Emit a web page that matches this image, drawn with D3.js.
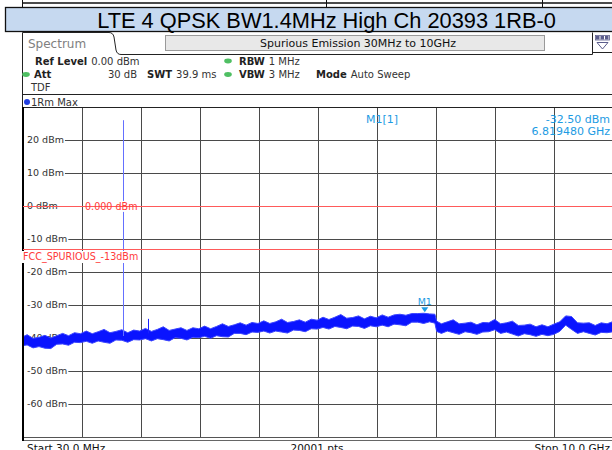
<!DOCTYPE html>
<html>
<head>
<meta charset="utf-8">
<script src="https://cdn.jsdelivr.net/npm/d3@7"></script>
<style>
  body { margin: 0; background: #fff; }
  svg { display: block; font-family: "DejaVu Sans", sans-serif; }
  .info { font-size: 10px; fill: #333; }
  .bold { font-weight: bold; fill: #222; }
  .grid { stroke: #4a4a4a; stroke-width: 1; shape-rendering: crispEdges; }
  .ylab { font-size: 9.5px; fill: #333; }
  .limit { stroke: #ff5a5a; stroke-width: 1; shape-rendering: crispEdges; }
  .limit-lab { font-size: 9.6px; fill: #ff3b3b; }
  .mk { font-size: 11px; fill: #1d9be3; }
  .foot { font-size: 10.5px; fill: #111; }
</style>
</head>
<body>
<svg width="612" height="450"></svg>
<script>
// sweep 30 MHz .. 10 GHz, trace band (upper / lower edge, dBm)
const freqs = [30, 100, 200, 300, 400, 500, 600, 700, 800, 900,
  1000, 1100, 1200, 1300, 1400, 1500, 1600, 1700, 1800, 1900,
  2000, 2100, 2200, 2300, 2400, 2500, 2600, 2700, 2800, 2900,
  3000, 3100, 3200, 3300, 3400, 3500, 3600, 3700, 3800, 3900,
  4000, 4100, 4200, 4300, 4400, 4500, 4600, 4700, 4800, 4900,
  5000, 5100, 5200, 5300, 5400, 5500, 5600, 5700, 5800, 5900,
  6000, 6100, 6200, 6300, 6400, 6500, 6600, 6700, 6800, 6900,
  6990, 7020, 7100, 7200, 7300, 7400, 7500, 7600, 7700, 7800,
  7900, 8000, 8100, 8200, 8300, 8400, 8500, 8600, 8700, 8800,
  8900, 9000, 9100, 9200, 9300, 9400, 9500, 9600, 9700, 9800,
  9900, 10000]

const traceHi = [-39.6, -39.0, -40.1, -39.8, -39.2, -40.0, -39.3, -38.6, -39.3, -38.4,
  -38.7, -37.9, -38.7, -38.1, -37.4, -38.4, -38.0, -37.5, -38.4, -37.6,
  -37.9, -37.1, -38.0, -37.4, -36.6, -37.7, -37.3, -36.9, -37.7, -36.9,
  -37.2, -36.4, -37.2, -36.5, -35.7, -36.5, -36.0, -35.4, -36.1, -35.3,
  -35.6, -34.8, -35.6, -35.1, -34.3, -35.3, -35.0, -34.5, -35.2, -34.3,
  -34.6, -33.7, -34.4, -33.7, -32.9, -34.0, -33.8, -33.3, -34.2, -33.4,
  -33.9, -33.0, -33.7, -33.0, -32.8, -33.1, -32.6, -32.6, -32.5, -32.7,
  -32.8, -34.9, -35.7, -35.1, -34.5, -35.7, -35.5, -35.2, -36.0, -35.3,
  -35.4, -34.4, -35.7, -35.4, -34.9, -36.2, -36.1, -35.8, -36.6, -36.0,
  -36.6, -35.8, -35.1, -33.3, -33.5, -35.4, -35.5, -35.4, -36.2, -35.4,
  -35.7, -35.0]

const traceLo = [-42.3, -42.1, -43.0, -42.6, -43.1, -43.2, -41.9, -41.8, -42.2, -41.3,
  -41.4, -41.0, -41.6, -40.9, -41.3, -41.6, -40.6, -40.7, -41.3, -40.5,
  -40.6, -40.2, -40.9, -40.2, -40.5, -40.9, -39.9, -40.1, -40.6, -39.8,
  -39.9, -39.5, -40.1, -39.3, -39.6, -39.7, -38.6, -38.6, -39.0, -38.2,
  -38.3, -37.9, -38.5, -37.9, -38.2, -38.5, -37.6, -37.7, -38.1, -37.2,
  -37.3, -36.8, -37.3, -36.5, -36.8, -37.2, -36.4, -36.5, -37.1, -36.3,
  -36.6, -36.1, -36.6, -35.8, -36.0, -36.3, -35.2, -35.2, -35.6, -35.1,
  -35.5, -38.0, -38.6, -37.9, -38.4, -38.9, -38.1, -38.4, -38.9, -38.2,
  -38.1, -37.5, -38.6, -38.2, -38.8, -39.4, -38.7, -39.0, -39.5, -38.9,
  -39.3, -38.9, -38.0, -36.1, -37.4, -38.6, -38.1, -38.6, -39.1, -38.3,
  -38.4, -38.1]

// narrow spurs sticking out of the band: [freq MHz, base dBm, peak dBm]
const spurs = [[1720, -39.4, 26.0], [2150, -38.6, -34.2]]

const yTicks = [20, 10, 0, -10, -20, -30, -40, -50, -60]
const limits = [{ level: 0, label: "0.000 dBm" }, { level: -13, label: "FCC_SPURIOUS_-13dBm" }]
const marker = { name: "M1", freq: 6819.48, level: -32.5, readLevel: "-32.50 dBm", readFreq: "6.819480 GHz" }

const svg = d3.select("svg")

const x = d3.scaleLinear().domain([30, 10000]).range([23, 613])
const y = d3.scaleLinear().domain([-70, 30]).range([437, 107])

// ---- header ----
svg.append("line").attr("x1", 22).attr("x2", 612).attr("y1", 3).attr("y2", 3)
    .attr("stroke", "#111").attr("stroke-width", 1.5)
;[22, 326, 542].forEach(px => {
    svg.append("line").attr("x1", px + .5).attr("x2", px + .5).attr("y1", 0).attr("y2", 7)
        .attr("stroke", "#111")
})
svg.append("rect").attr("x", 5.5).attr("y", 7.5).attr("width", 620).attr("height", 24)
    .attr("fill", "#c6d9f0").attr("stroke", "#111").attr("stroke-width", 1.3)
svg.append("text").attr("x", 326.5).attr("y", 27.5).attr("text-anchor", "middle")
    .style("font-family", "'Liberation Sans', Arial, sans-serif").style("font-size", "21.8px")
    .attr("fill", "#000").text("LTE 4 QPSK BW1.4MHz High Ch 20393 1RB-0")

// tab + window outline
svg.append("path")
    .attr("d", "M22.5,108 V32.5 H109 Q113,32.5 114,37 L116,50 Q117,54.5 121,54.5 H592.5 M592.5,54.5 V32.5 M592.5,52.5 H612")
    .attr("fill", "none").attr("stroke", "#222").attr("stroke-width", 1)
svg.append("text").attr("x", 28).attr("y", 48).attr("fill", "#808080")
    .style("font-size", "12px").text("Spectrum")
svg.append("rect").attr("x", 165.5).attr("y", 35.5).attr("width", 379).attr("height", 15)
    .attr("fill", "#e8e8e8").attr("stroke", "#9a9a9a")
svg.append("text").attr("x", 358).attr("y", 47).attr("text-anchor", "middle")
    .style("font-size", "11px").attr("fill", "#111").text("Spurious Emission 30MHz to 10GHz")

// little display icon top right
const icon = svg.append("g").attr("fill", "#5b5d8c")
;[596, 600.5, 605].forEach(px => icon.append("rect").attr("x", px).attr("y", 36).attr("width", 3.5).attr("height", 3.5))
icon.append("rect").attr("x", 595.5).attr("y", 35.5).attr("width", 14).attr("height", 4.5)
    .attr("fill", "none").attr("stroke", "#5b5d8c").attr("stroke-width", .8)
icon.append("path").attr("d", "M597,42.5 H608 L602.5,49 Z").attr("fill", "none")
    .attr("stroke", "#5b5d8c").attr("stroke-width", 1)

// settings block
function info(px, py, bold, normal, anchorEnd) {
    const t = svg.append("text").attr("class", "info").attr("x", px).attr("y", py)
    if (anchorEnd) t.attr("text-anchor", "end")
    if (bold) t.append("tspan").attr("class", "bold").text(bold)
    if (normal) t.append("tspan").attr("dx", bold ? 4 : 0).text(normal)
}
function led(px, py, color) {
    svg.append("ellipse").attr("cx", px).attr("cy", py).attr("rx", 3.8).attr("ry", 2.4).attr("fill", color)
}
info(35, 64.5, "Ref Level", "0.00 dBm")
led(228, 61, "#4fbf63")
info(239, 64.5, "RBW", "1 MHz")
led(26, 74.5, "#4fbf63")
info(34, 78, "Att", null)
info(137, 78, null, "30 dB", true)
info(147, 78, "SWT", "39.9 ms")
led(228, 74.5, "#4fbf63")
info(239, 78, "VBW", "3 MHz")
info(316, 78, "Mode", "Auto Sweep")
info(31, 91, null, "TDF")
svg.append("line").attr("x1", 22).attr("x2", 612).attr("y1", 94.5).attr("y2", 94.5).attr("stroke", "#222")
svg.append("circle").attr("cx", 27).attr("cy", 102).attr("r", 3).attr("fill", "#1f3de0")
info(31, 105.5, null, "1Rm Max")

// ---- plot area ----
const plot = svg.append("g")
const gridX = d3.range(1, 10).map(i => 30 + i * 997)

plot.selectAll("line.vgrid").data(gridX).enter().append("line")
    .attr("class", "grid vgrid")
    .attr("x1", d => Math.round(x(d)) + .5).attr("x2", d => Math.round(x(d)) + .5)
    .attr("y1", y(30)).attr("y2", y(-70))

plot.selectAll("line.hgrid").data(yTicks).enter().append("line")
    .attr("class", "grid hgrid")
    .attr("x1", 23).attr("x2", 612)
    .attr("y1", d => Math.round(y(d)) + .5).attr("y2", d => Math.round(y(d)) + .5)

const ylab = plot.selectAll("g.ylab").data(yTicks).enter().append("g")
ylab.each(function (d) {
    const g = d3.select(this)
    const t = g.append("text").attr("class", "ylab").attr("x", 27).attr("y", y(d) + 3.4)
        .text(`${d} dBm`)
    const bb = t.node().getBBox()
    g.insert("rect", "text").attr("x", 23).attr("y", bb.y).attr("width", bb.x + bb.width + 1 - 23)
        .attr("height", bb.height).attr("fill", "#fff")
})

// frame
svg.append("line").attr("x1", 23).attr("x2", 612).attr("y1", 107.5).attr("y2", 107.5).attr("stroke", "#222")
svg.append("line").attr("x1", 23).attr("x2", 612).attr("y1", 437.5).attr("y2", 437.5).attr("stroke", "#555")
svg.append("line").attr("x1", 23).attr("x2", 612).attr("y1", 440.5).attr("y2", 440.5).attr("stroke", "#666")
svg.append("line").attr("x1", 23).attr("x2", 23).attr("y1", 107).attr("y2", 441)
    .attr("stroke", "#000").attr("stroke-width", 2)

// trace
const band = freqs.map((f, i) => ({ f, hi: traceHi[i], lo: traceLo[i] }))
plot.append("path").datum(band)
    .attr("d", d3.area().x(d => x(d.f)).y0(d => y(d.lo)).y1(d => y(d.hi)))
    .attr("fill", "#0a14ff")
;["hi", "lo"].forEach(k => {
    plot.append("path").datum(band)
        .attr("d", d3.line().x(d => x(d.f)).y(d => y(d[k])))
        .attr("fill", "none").attr("stroke", "#3a44ff").attr("stroke-width", 1)
})
plot.selectAll("line.spur").data(spurs).enter().append("line")
    .attr("x1", d => Math.round(x(d[0])) + .5).attr("x2", d => Math.round(x(d[0])) + .5)
    .attr("y1", d => y(d[1])).attr("y2", d => y(d[2]))
    .attr("stroke", (d, i) => i === 0 ? "#6470ff" : "#1a22ff").attr("stroke-width", 1)

// limit / reference lines
limits.forEach((l, i) => {
    const yy = Math.round(y(l.level)) + .5
    const t = svg.append("text").attr("class", "limit-lab")
        .attr("x", i === 0 ? 85 : 23).attr("y", i === 0 ? yy + 3.4 : yy + 10.5)
        .text(l.label)
    const bb = t.node().getBBox()
    svg.insert("rect", () => t.node()).attr("x", bb.x - 1).attr("y", bb.y).attr("width", bb.width + 2)
        .attr("height", bb.height).attr("fill", "#fff")
    svg.insert("line", () => t.node()).attr("class", "limit")
        .attr("x1", 23).attr("x2", 612).attr("y1", yy).attr("y2", yy)
})

// marker
const mx = x(marker.freq), my = y(marker.level) - 1
svg.append("path").attr("d", `M${mx - 3.5},${my - 5} H${mx + 3.5} L${mx},${my} Z`).attr("fill", "#1d9be3")
svg.append("text").attr("class", "mk").style("font-size", "9.5px").attr("x", mx).attr("y", my - 7)
    .attr("text-anchor", "middle").text(marker.name)
svg.append("text").attr("class", "mk").attr("x", 366).attr("y", 122.5).text(`${marker.name}[1]`)
svg.append("text").attr("class", "mk").attr("x", 610).attr("y", 122.5).attr("text-anchor", "end").text(marker.readLevel)
svg.append("text").attr("class", "mk").attr("x", 610).attr("y", 135).attr("text-anchor", "end").text(marker.readFreq)

// footer (cut by the bottom edge, as in the screenshot)
svg.append("text").attr("class", "foot").attr("x", 27).attr("y", 452).text("Start 30.0 MHz")
svg.append("text").attr("class", "foot").attr("x", 317).attr("y", 452).attr("text-anchor", "middle").text("20001 pts")
svg.append("text").attr("class", "foot").attr("x", 610).attr("y", 452).attr("text-anchor", "end").text("Stop 10.0 GHz")
</script>
</body>
</html>
